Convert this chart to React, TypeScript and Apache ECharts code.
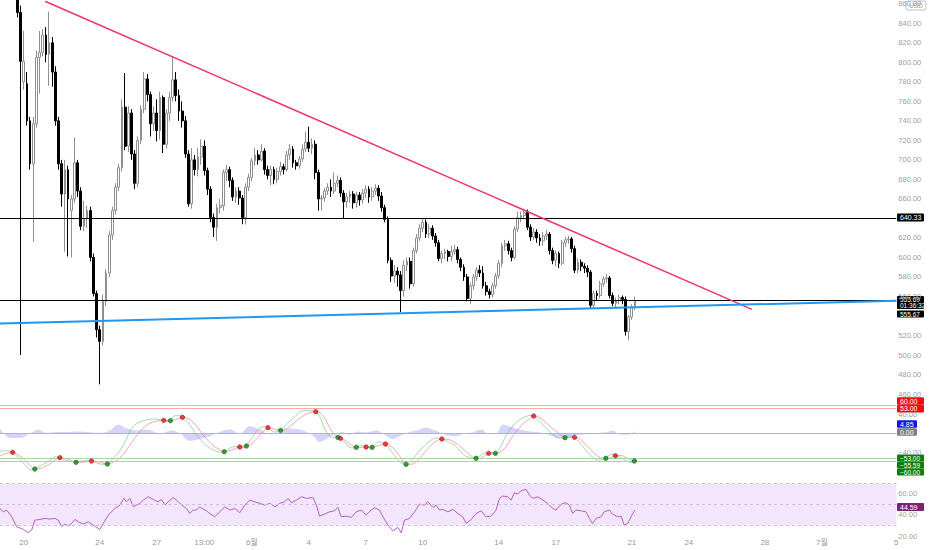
import React, { useEffect, useRef } from 'react';
import * as echarts from 'echarts';

const FONT = "'Liberation Sans', 'Noto Sans CJK KR', sans-serif";
const N_SLOTS = 283; // 4h slots across the plot width
const FIRST_SLOT = 5;

// [open, close, low, high] per 4h candle, starting at FIRST_SLOT
const CANDLES: number[][] = [
  [872, 851, 846, 880], [851, 801, 500, 858], [780, 801, 772, 832], [778, 740, 735, 790], [740, 696, 690, 744],
  [696, 737, 616, 744], [737, 805, 733, 812], [805, 810, 768, 832], [810, 828, 806, 834], [828, 808, 800, 836],
  [808, 820, 776, 852], [820, 790, 775, 826], [790, 740, 735, 796], [740, 696, 690, 744], [696, 665, 652, 700],
  [665, 690, 606, 700], [690, 660, 601, 694], [648, 660, 600, 664], [660, 697, 656, 723], [697, 668, 662, 700],
  [668, 632, 628, 672], [632, 640, 627, 658], [640, 648, 630, 653], [648, 600, 596, 652], [600, 563, 560, 604],
  [563, 526, 518, 566], [526, 514, 470, 530], [514, 555, 510, 562], [555, 584, 550, 588], [584, 623, 580, 627],
  [623, 648, 618, 652], [648, 672, 644, 676], [672, 692, 668, 696], [692, 754, 688, 762], [754, 714, 710, 789],
  [714, 748, 708, 755], [748, 706, 700, 752], [706, 676, 670, 710], [676, 720, 672, 724], [720, 752, 716, 756],
  [752, 783, 748, 790], [783, 767, 760, 788], [767, 737, 724, 770], [737, 748, 730, 755], [748, 730, 719, 762],
  [730, 764, 721, 770], [764, 716, 707, 766], [716, 748, 712, 752], [748, 764, 740, 770], [764, 782, 760, 806],
  [782, 766, 760, 790], [766, 750, 740, 772], [750, 740, 733, 760], [740, 706, 702, 745], [706, 655, 652, 710],
  [655, 700, 650, 712], [700, 690, 684, 705], [690, 703, 683, 712], [703, 714, 695, 721], [714, 689, 684, 720],
  [689, 670, 664, 692], [670, 641, 636, 673], [641, 631, 621, 645], [631, 651, 617, 655], [651, 653, 645, 660],
  [653, 687, 648, 690], [687, 690, 678, 695], [690, 679, 672, 693], [679, 662, 658, 682], [662, 668, 656, 672],
  [668, 661, 654, 672], [661, 641, 634, 664], [641, 672, 634, 676], [672, 682, 668, 686], [682, 699, 678, 702],
  [699, 705, 694, 712], [705, 700, 695, 710], [700, 709, 698, 716], [709, 690, 685, 712], [690, 684, 680, 694],
  [684, 690, 674, 694], [690, 680, 675, 693], [680, 688, 676, 692], [688, 693, 684, 698], [693, 690, 685, 696],
  [690, 705, 688, 709], [705, 711, 700, 716], [711, 697, 692, 714], [697, 694, 690, 700], [694, 701, 691, 704],
  [701, 711, 698, 716], [711, 718, 708, 729], [718, 712, 708, 734], [712, 716, 706, 722], [716, 687, 680, 720],
  [687, 660, 648, 690], [660, 661, 648, 664], [661, 668, 657, 671], [668, 672, 664, 676], [672, 668, 662, 680],
  [668, 676, 665, 687], [676, 679, 672, 684], [679, 666, 662, 682], [666, 657, 640, 669], [657, 662, 651, 666],
  [662, 665, 656, 668], [665, 656, 650, 668], [656, 664, 651, 667], [664, 659, 653, 667], [659, 666, 655, 670],
  [666, 670, 661, 674], [670, 662, 656, 673], [662, 668, 658, 672], [668, 671, 664, 675], [671, 663, 658, 674],
  [663, 651, 647, 667], [651, 639, 636, 654], [639, 597, 594, 642], [597, 581, 575, 600], [581, 586, 574, 592],
  [586, 582, 570, 590], [582, 566, 544, 586], [566, 592, 560, 597], [592, 596, 586, 600], [596, 573, 568, 600],
  [573, 607, 570, 610], [607, 620, 604, 624], [620, 630, 617, 634], [630, 636, 626, 640], [636, 624, 620, 639],
  [624, 630, 620, 634], [630, 622, 618, 633], [622, 615, 611, 625], [615, 599, 596, 618], [599, 604, 594, 607],
  [604, 606, 598, 609], [606, 601, 596, 608], [601, 606, 596, 612], [606, 608, 603, 613], [608, 598, 594, 611],
  [598, 590, 586, 600], [590, 580, 576, 593], [580, 558, 555, 583], [558, 571, 552, 574], [571, 580, 567, 583],
  [580, 587, 576, 590], [587, 584, 580, 592], [584, 571, 568, 591], [571, 565, 561, 575], [565, 562, 558, 568],
  [562, 571, 559, 574], [571, 581, 568, 584], [581, 594, 578, 597], [594, 612, 590, 615], [612, 614, 607, 618],
  [614, 607, 603, 617], [607, 600, 596, 610], [600, 629, 598, 632], [629, 641, 626, 647], [641, 643, 636, 647],
  [643, 646, 639, 650], [646, 631, 628, 649], [631, 621, 617, 634], [621, 626, 618, 630], [626, 620, 615, 629],
  [620, 617, 612, 624], [617, 622, 612, 626], [622, 624, 618, 628], [624, 607, 603, 626], [607, 597, 593, 610],
  [597, 604, 591, 607], [604, 594, 589, 606], [594, 615, 592, 618], [615, 618, 611, 621], [618, 619, 614, 622],
  [619, 609, 605, 621], [609, 587, 584, 612], [587, 595, 584, 599], [595, 591, 586, 598], [591, 589, 584, 594],
  [589, 585, 580, 592], [585, 551, 548, 587], [551, 563, 547, 566], [563, 561, 556, 566], [561, 573, 558, 576],
  [573, 578, 570, 581], [578, 579, 574, 583], [579, 561, 558, 581], [561, 553, 550, 564], [553, 556, 549, 559],
  [556, 559, 552, 562], [559, 557, 552, 561], [557, 524, 520, 560], [524, 539, 515, 541], [539, 549, 536, 552],
  [549, 555.69, 546, 560],
];

const LEVEL_LINES = [640.33, 555.69];
const DOWN_TRENDLINE = [[13.7, 862.5], [236.9, 546.8]];
const UP_TRENDLINE = [[-0.5, 532.2], [282.5, 555.67]];
// 540.00 and 640.00 sit fully under the price tags in the reference
const PRICE_TICKS = [460, 480, 500, 520, 560, 580, 600, 620, 660, 680, 700, 720, 740, 760, 780, 800, 820, 840, 860];

const TIME_TICK_SLOTS = [7, 31, 49, 64, 79, 97, 115, 133, 157, 175, 199, 217, 241, 259, 282.5];
const TIME_TICK_TEXT = ['20', '24', '27', '13:00', '6월', '4', '7', '10', '14', '17', '21', '24', '28', '7월', '5'];

// oscillator pane: [slot, value]
const OSC_FAST = [
  [-0.5, -38], [1.5, -37], [3.5, -40.5], [5, -50], [7, -64], [9.5, -78], [10.5, -76], [12, -70], [14, -63], [16, -54],
  [17, -50], [18.4, -51.8], [20, -57], [22, -60], [23.5, -61.7], [25, -59], [27, -58], [28.4, -58.9], [30, -63], [32, -66],
  [33.4, -65.3], [35, -55], [37, -40], [39, -18], [41, 10], [43, 22], [45, 27], [47, 30], [49, 30], [51.2, 27.6],
  [52.2, 25], [53.3, 26.9], [55, 38], [56, 38], [57.1, 34], [59, 22], [61, 2], [63, -15], [65, -28], [67, -36],
  [69, -40], [70.3, -39.1], [72, -32], [74, -28], [75.2, -29.1], [76.2, -31], [77.3, -27], [79, -10], [81, 8], [83, 14],
  [84.1, 12], [86, 3], [88.1, 6.3], [90, 20], [92, 32], [94, 44], [96, 49], [98, 48], [99.2, 46], [100.5, 35],
  [102, 10], [103.6, -6], [105, -9], [106.2, -8.6], [107, -10.7], [108.5, -20], [110, -30], [111, -31], [112, -29.8],
  [113.5, -26], [115.1, -29.1], [116, -31], [117, -29.8], [119, -18], [121.2, -22.8], [123, -38], [125, -55], [126.5, -64],
  [127.7, -66], [129, -62], [131, -45], [133, -30], [135, -18], [137, -10], [139, -12.1], [141, -18], [143, -25], [145, -40],
  [147, -50], [149.8, -53.2], [151, -48], [152.5, -42], [153.8, -42.6], [154.8, -44], [155.9, -42.6], [157.5, -30],
  [159.3, -5], [161, 12], [163, 26], [165, 34], [167, 38], [168, 36.8], [170, 25], [172, 10], [174, -2], [176, -10],
  [177.9, -9.3], [179.4, -6], [180.9, -8.6], [182.5, -20], [184.5, -36], [186.5, -50], [188.5, -57], [190.8, -53.2],
  [192.3, -45], [193.8, -47.6], [195.5, -52], [197.2, -58], [198.5, -62], [199.8, -58.9], [200.5, -55.6],
];
const OSC_SLOW = [
  [-0.5, -48], [1.5, -43], [3.5, -40.5], [5, -45], [7, -55], [9.5, -72], [10.5, -76], [12, -75], [14, -70], [16, -62],
  [17, -56], [18.4, -51.8], [20, -53], [22, -58], [23.5, -61.7], [25, -62], [27, -60], [28.4, -58.9], [30, -60], [32, -63],
  [33.4, -65.3], [35, -62], [37, -54], [39, -40], [41, -20], [43, -2], [45, 13], [47, 22], [49, 26], [51.2, 27.6],
  [52.2, 27], [53.3, 26.9], [55, 29], [56, 32], [57.1, 34], [59, 31], [61, 20], [63, 2], [65, -14], [67, -27],
  [69, -35], [70.3, -39.1], [72, -37], [74, -32], [75.2, -29.1], [76.2, -28], [77.3, -27], [79, -22], [81, -8], [83, 6],
  [84.1, 12], [86, 9], [88.1, 6.3], [90, 10], [92, 20], [94, 31], [96, 40], [98, 45], [99.2, 46], [100.5, 44],
  [102, 32], [103.6, 12], [105, -2], [106.2, -8.6], [107, -10.7], [108.5, -15], [110, -23], [112, -29.8], [113.5, -30],
  [115.1, -29.1], [116, -29], [117, -29.8], [119, -26], [121.2, -22.8], [123, -28], [125, -42], [126.5, -57], [127.7, -66],
  [129, -66], [131, -60], [133, -45], [135, -30], [137, -18], [139, -12.1], [141, -13], [143, -19], [145, -29], [147, -41],
  [149.8, -53.2], [151, -53], [152.5, -48], [153.8, -42.6], [154.8, -41], [155.9, -42.6], [157.5, -40], [159.3, -28],
  [161, -10], [163, 8], [165, 22], [167, 32], [168, 36.8], [170, 33], [172, 22], [174, 10], [176, 0], [177.9, -9.3],
  [179.4, -9], [180.9, -8.6], [182.5, -12], [184.5, -24], [186.5, -38], [188.5, -50], [190.8, -53.2], [192.3, -52],
  [193.8, -47.6], [195.5, -47], [197.2, -52], [198.5, -56], [199.8, -58.9], [200.5, -59],
];
const CROSS_UP = [
  [10.5, -76], [23.5, -61.7], [33.4, -65.3], [53.3, 26.9], [70.3, -39.1], [77.3, -27], [88.1, 6.3], [106.2, -8.6],
  [112, -29.8], [117, -29.8], [127.7, -66], [149.8, -53.2], [155.9, -42.6], [177.9, -9.3], [190.8, -53.2], [199.8, -58.9],
];
const CROSS_DOWN = [
  [3.5, -40.5], [18.4, -51.8], [28.4, -58.9], [51.2, 27.6], [57.1, 34], [75.2, -29.1], [84.1, 12], [99.2, 46],
  [107, -10.7], [115.1, -29.1], [121.2, -22.8], [139, -12.1], [153.8, -42.6], [168, 36.8], [180.9, -8.6], [193.8, -47.6],
];
const OSC_HIST = [
  [-0.5, 10], [2.7, -10], [5.8, -10], [9, 0], [11.6, 7], [14.2, 1], [17.4, 3], [20.5, 3], [23.7, 4], [26.8, 3],
  [31, 1], [34.2, 6], [36.8, 18], [39.5, 10], [42.6, 6], [45.8, 8], [50, 0], [53.7, 6], [56.3, 0], [59.4, -16],
  [62.6, -12], [65.7, -6], [68.9, 3], [72, 8], [75.2, 0], [78.4, 15], [81.5, 8], [84.7, -2], [87.8, 3], [91, 10],
  [94.1, 8], [96.2, 3], [98.3, -5], [100.4, -18], [102.5, -12], [104.6, -4], [107.8, 3], [109.9, -3], [112.5, 4],
  [115.1, 2], [118.3, 6], [120.9, -3], [123.5, -12], [125.6, -6], [128.8, 3], [130.9, 6], [134.1, 12], [136.2, 8],
  [138.3, 2], [140.4, -4], [143.5, -6], [145.6, -2], [148.8, 2], [151.4, 8], [153.5, 0], [156.1, -1], [158.2, 18],
  [160.3, 15], [163.5, 8], [166.7, 4], [169.8, 2], [173, -4], [176.1, -10], [178.2, -8], [181.4, -4], [184.5, -2],
  [187.7, 0], [190.8, 2], [192.9, 6], [195, -2], [197.7, -3], [200, 4.85],
];
const OSC_UPPER = [60, 53];
const OSC_LOWER = [-53, -60];

const RSI = [
  [-0.5, 46.1], [0.55, 43], [1.6, 44.6], [3.2, 38.3], [4.8, 28.9], [6.9, 26.3], [8.4, 23.2], [9.5, 25.7], [10.5, 35.1],
  [12.1, 35.8], [13.7, 36.7], [15.3, 36.1], [16.9, 36.7], [17.9, 35.1], [19, 28.9], [20, 31.4], [21.1, 29.5], [22.1, 32],
  [23.2, 35.8], [24.2, 33.6], [25.8, 31.4], [27.4, 33.6], [28.9, 30.4], [31, 26.3], [32.1, 32], [33.7, 39.9], [35.8, 46.2],
  [37.4, 49.3], [38.6, 55.6], [39.5, 52.4], [40.5, 55.6], [41.6, 47.7], [42.6, 49.3], [43.7, 50.9], [44.7, 54], [46.3, 57.2],
  [47.9, 54.6], [49.4, 52.4], [50.5, 54.6], [51.6, 49.3], [52.6, 52.4], [54.2, 56.5], [55.8, 52.4], [57.3, 48.4], [58.4, 46.1],
  [59.4, 41.4], [60.5, 44.6], [61.5, 44.6], [62.6, 47.7], [63.6, 45.5], [64.7, 43.9], [65.7, 41.4], [67.3, 38.3], [68.9, 43],
  [70.5, 47.7], [72.1, 44.6], [73.6, 46.1], [75.2, 42.1], [76.8, 49.3], [78.4, 54], [79.9, 52.4], [81.5, 50.9], [83.1, 49.3],
  [84.7, 50.9], [86.3, 47.7], [87.8, 50.9], [89.4, 52.4], [90.5, 55.6], [91.5, 51.5], [93.1, 54], [94.7, 57.2], [96.2, 55.6],
  [98.3, 56.5], [99.4, 49.3], [100.4, 38.9], [102, 40.8], [103.6, 43], [105.1, 43.9], [106.2, 47.1], [107.2, 38.3],
  [108.8, 38.9], [110.4, 37.7], [112, 43], [113.6, 44.6], [115.1, 39.9], [116.7, 44.6], [117.8, 46.8], [119.3, 44.6],
  [120.4, 38.3], [122, 30.4], [123.5, 25.1], [125.1, 28.2], [126.2, 23.2], [127.2, 35.1], [128.8, 36.7], [130.4, 43],
  [132, 50.2], [133.5, 49.3], [134.6, 52.4], [136.2, 47.1], [137.2, 49.3], [138.3, 44.6], [139.3, 45.2], [140.9, 43],
  [142.5, 45.2], [144.1, 41.4], [145.6, 38.3], [146.7, 32], [148.3, 35.8], [149.8, 41.4], [151.4, 43.9], [153, 38.3],
  [154.6, 38.9], [156.1, 44.6], [157.2, 55.6], [158.2, 57.8], [159.8, 57.2], [160.9, 54], [161.9, 60.9], [163, 59.7],
  [164, 62.8], [165.6, 64.1], [166.7, 58.7], [167.7, 55.6], [169.3, 57.2], [170.9, 54], [172.4, 50.9], [174, 46.2],
  [175.1, 44.6], [176.1, 48.4], [177.2, 50.9], [178.2, 51.5], [179.3, 49.3], [180.3, 41.4], [181.4, 44.6], [183, 43.9],
  [184.5, 43], [185.6, 36.7], [186.6, 32], [187.7, 36.7], [189.3, 38.3], [190.3, 43], [191.9, 44.6], [192.9, 40.8],
  [194.5, 38.3], [195.6, 38.9], [196.6, 30.4], [197.7, 32], [199.2, 40.8], [200, 44.59],
];
const RSI_LEVELS = [70, 50, 30];

const PLOT_RIGHT = 896.3;

function tag(cy: number, h: number, fill: string, lines: string[], w = 27, fs = 7) {
  const top = cy - h / 2;
  const children: any[] = [
    { type: 'rect', shape: { x: 897, y: top, width: w, height: h, r: 1 }, style: { fill } },
  ];
  const lh = h / lines.length;
  lines.forEach((t, i) => {
    children.push({
      type: 'text',
      style: {
        text: t, x: 900, y: top + lh * (i + 0.5), fill: '#ffffff',
        font: `${fs}px ${FONT}`, align: 'left', verticalAlign: 'middle', lineHeight: fs,
      },
    });
  });
  return { type: 'group', z: 100, children };
}

export default function App() {
  const ref = useRef<HTMLDivElement>(null);
  useEffect(() => {
    if (!ref.current) return;
    const chart = echarts.init(ref.current, undefined, { renderer: 'svg' });
    const cats = Array.from({ length: N_SLOTS }, (_, i) => String(i));
    const candleData = CANDLES.map((c, i) => [FIRST_SLOT + i, c[0], c[1], c[2], c[3]]);
    const grids = [
      { left: 0, top: 0, width: PLOT_RIGHT, height: 396 },
      { left: 0, top: 398, width: PLOT_RIGHT, height: 74 },
      { left: 0, top: 479, width: PLOT_RIGHT, height: 58 },
    ];
    const hiddenX = (gridIndex: number) => ({
      type: 'value', gridIndex, min: -0.5, max: N_SLOTS - 0.5, show: false,
    });
    const yBase = {
      position: 'right',
      axisLine: { show: false },
      axisTick: { show: false },
      splitLine: { show: false },
    };
    const fmt = (v: number) => (v < 0 ? '−' + Math.abs(v).toFixed(2) : v.toFixed(2));
    const hline = (y: number, color: string, type: any = 'solid') => ({
      yAxis: y, lineStyle: { color, width: 1, type },
    });

    const option: any = {
      animation: false,
      backgroundColor: '#ffffff',
      textStyle: { fontFamily: FONT },
      grid: grids,
      xAxis: [
        { type: 'category', gridIndex: 0, data: cats, boundaryGap: true, show: false },
        hiddenX(0),
        hiddenX(1),
        {
          type: 'value', gridIndex: 2, min: -0.5, max: N_SLOTS - 0.5,
          axisLine: { show: false }, axisTick: { show: false }, splitLine: { show: false },
          axisLabel: {
            customValues: TIME_TICK_SLOTS, margin: 1, fontSize: 8, color: '#9a9a9a', fontFamily: FONT,
            formatter: (v: number) => {
              const i = TIME_TICK_SLOTS.indexOf(v);
              return i >= 0 ? TIME_TICK_TEXT[i] : '';
            },
          },
        },
      ],
      yAxis: [
        {
          ...yBase, type: 'value', gridIndex: 0, min: 458, max: 862.5,
          axisLabel: { customValues: PRICE_TICKS, formatter: fmt, fontSize: 7.5, color: '#9e9e9e', margin: 2, fontFamily: FONT },
        },
        {
          ...yBase, type: 'value', gridIndex: 1, min: -82.3, max: 75.1,
          axisLabel: { customValues: [-40, 40], formatter: fmt, fontSize: 7.5, color: '#9e9e9e', margin: 2, fontFamily: FONT },
        },
        {
          ...yBase, type: 'value', gridIndex: 2, min: 19.2, max: 73.9,
          axisLabel: { customValues: [20, 40, 60], formatter: fmt, fontSize: 7.5, color: '#9e9e9e', margin: 2, fontFamily: FONT },
        },
      ],
      series: [
        {
          type: 'candlestick', xAxisIndex: 0, yAxisIndex: 0,
          data: candleData, encode: { x: 0, y: [1, 2, 3, 4] },
          barWidth: 2.3,
          itemStyle: {
            color: '#ffffff', color0: '#000000',
            borderColor: '#8f8f8f', borderColor0: '#000000', borderWidth: 1,
          },
          markLine: {
            silent: true, symbol: ['none', 'none'], label: { show: false },
            data: LEVEL_LINES.map((v) => hline(v, '#000000')),
          },
        },
        {
          type: 'line', xAxisIndex: 1, yAxisIndex: 0, data: DOWN_TRENDLINE,
          symbol: 'none', lineStyle: { color: '#f0336d', width: 1.5 }, z: 5,
        },
        {
          type: 'line', xAxisIndex: 1, yAxisIndex: 0, data: UP_TRENDLINE,
          symbol: 'none', lineStyle: { color: '#2196f3', width: 2 }, z: 5,
        },
        {
          type: 'line', xAxisIndex: 2, yAxisIndex: 1, data: OSC_HIST, smooth: 0.4,
          symbol: 'none', lineStyle: { width: 0 },
          areaStyle: { color: 'rgba(112,112,245,0.42)' },
          markLine: {
            silent: true, symbol: ['none', 'none'], label: { show: false },
            data: [
              hline(0, '#b0b0ea'),
              ...OSC_UPPER.map((v) => hline(v, '#ffaaaa')),
              ...OSC_LOWER.map((v) => hline(v, '#a6d8a6')),
            ],
          },
        },
        {
          type: 'line', xAxisIndex: 2, yAxisIndex: 1, data: OSC_SLOW, smooth: 0.4,
          symbol: 'none', lineStyle: { color: 'rgba(242,60,70,0.45)', width: 1 },
        },
        {
          type: 'line', xAxisIndex: 2, yAxisIndex: 1, data: OSC_FAST, smooth: 0.4,
          symbol: 'none', lineStyle: { color: 'rgba(60,170,70,0.45)', width: 1 },
        },
        {
          type: 'scatter', xAxisIndex: 2, yAxisIndex: 1, data: CROSS_UP, symbolSize: 4.5,
          itemStyle: { color: '#0b8a12', borderColor: '#064d08', borderWidth: 0.6 }, z: 6,
        },
        {
          type: 'scatter', xAxisIndex: 2, yAxisIndex: 1, data: CROSS_DOWN, symbolSize: 4.5,
          itemStyle: { color: '#f01020', borderColor: '#7a0a0a', borderWidth: 0.6 }, z: 6,
        },
        {
          type: 'line', xAxisIndex: 3, yAxisIndex: 2, data: RSI,
          symbol: 'none', lineStyle: { color: '#b45fc6', width: 1 },
          markArea: {
            silent: true, itemStyle: { color: '#f3e6fc' },
            data: [[{ yAxis: 30 }, { yAxis: 70 }]],
          },
          markLine: {
            silent: true, symbol: ['none', 'none'], label: { show: false },
            data: RSI_LEVELS.map((v) => hline(v, '#cdc0da', [3, 3])),
          },
        },
      ],
      graphic: {
        elements: [
          {
            type: 'group', z: 100, children: [
              { type: 'rect', shape: { x: 906, y: 1, width: 20, height: 9, r: 2 }, style: { fill: '#ffffff', stroke: '#b0b0b0', lineWidth: 0.8 } },
              { type: 'text', style: { text: 'USD', x: 916, y: 5.7, fill: '#9a9a9a', font: `6.5px ${FONT}`, align: 'center', verticalAlign: 'middle' } },
            ],
          },
          tag(217.5, 8, '#000000', ['640.33']),
          tag(302.5, 13, '#000000', ['555.69', '01:36:32'], 27, 6.5),
          tag(314, 7, '#000000', ['555.67'], 27, 6.5),
          tag(401, 7.6, '#f20d0d', ['60.00']),
          tag(408.6, 7.6, '#f20d0d', ['53.00']),
          tag(424, 7.6, '#1515e8', ['4.85'], 20),
          tag(432, 7.6, '#7f7f7f', ['0.00'], 20),
          tag(458, 7, '#087f0b', ['−53.00'], 27, 6.5),
          tag(465, 7, '#087f0b', ['−55.59'], 27, 6.5),
          tag(472, 7, '#087f0b', ['−60.00'], 27, 6.5),
          tag(507, 8, '#7f1f72', ['44.59']),
        ],
      },
    };
    chart.setOption(option);
    return () => chart.dispose();
  }, []);
  return (
    <div
      ref={ref}
      style={{ position: 'fixed', left: 0, top: 0, width: 932, height: 550, background: '#ffffff' }}
    />
  );
}
